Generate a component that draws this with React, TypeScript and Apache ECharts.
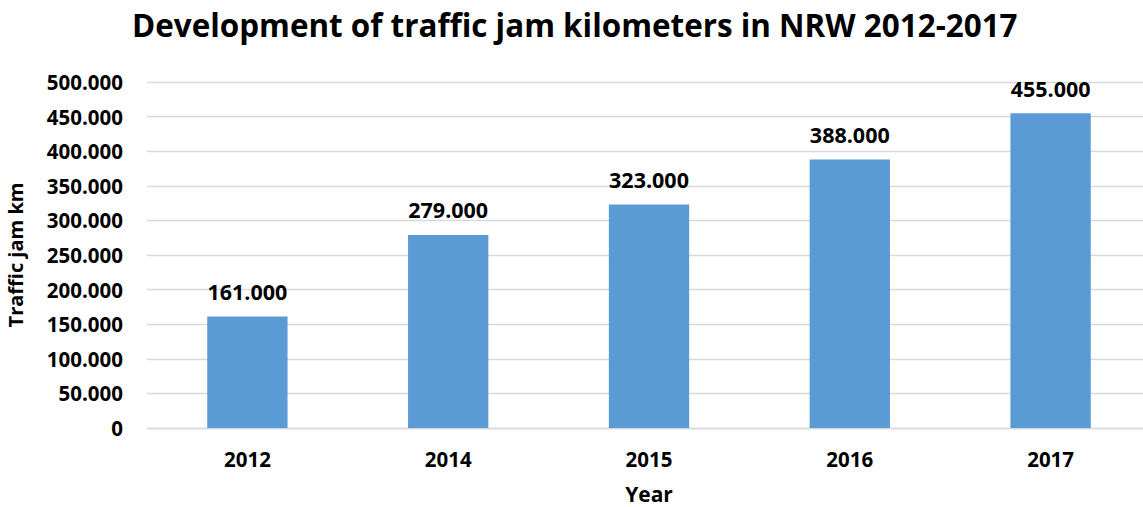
import React, { useEffect, useRef } from "react";
import * as echarts from "echarts";

const categories = ["2012", "2014", "2015", "2016", "2017"];
const jamKm = [161000, 279000, 323000, 388000, 455000];
const titleText = "Development of traffic jam kilometers in NRW 2012-2017";
const yAxisName = "Traffic jam km";
const xAxisName = "Year";

const fmt = (v: number) => {
  if (v === 0) return "0";
  return String(Math.round(v)).replace(/\B(?=(\d{3})+(?!\d))/g, ".");
};

const FONT = "Open Sans";

export default function App() {
  const ref = useRef<HTMLDivElement>(null);
  useEffect(() => {
    if (!ref.current) return;
    const chart = echarts.init(ref.current, undefined, { renderer: "svg" });
    chart.setOption({
      animation: false,
      backgroundColor: "#ffffff",
      title: {
        text: titleText,
        left: 127,
        top: 4,
        textStyle: { fontFamily: FONT, fontWeight: "bold", fontSize: 31.4, color: "#000" },
      },
      grid: { left: 147, right: -8, top: 82, bottom: 79, containLabel: false, outerBoundsMode: "none" },
      xAxis: {
        type: "category",
        data: categories,
        name: xAxisName,
        nameLocation: "middle",
        nameGap: 55,
        nameTextStyle: { fontFamily: FONT, fontWeight: "bold", fontSize: 21, color: "#000" },
        axisLine: { show: true, lineStyle: { color: "#d9d9d9", width: 1.3 } },
        axisTick: { show: false },
        axisLabel: { fontFamily: FONT, fontWeight: "bold", fontSize: 20.5, color: "#000", margin: 20 },
      },
      yAxis: {
        type: "value",
        min: 0,
        max: 500000,
        interval: 50000,
        name: yAxisName,
        nameLocation: "middle",
        nameGap: 122,
        nameRotate: 90,
        nameTextStyle: { fontFamily: FONT, fontWeight: "bold", fontSize: 20, color: "#000" },
        axisLine: { show: false },
        axisTick: { show: false },
        splitLine: { lineStyle: { color: "#d9d9d9", width: 1.3 } },
        axisLabel: {
          fontFamily: FONT,
          fontWeight: "bold",
          fontSize: 20.5,
          color: "#000",
          margin: 24,
          formatter: (v: number) => fmt(v),
        },
      },
      series: [
        {
          type: "bar",
          data: jamKm,
          barWidth: "40%",
          itemStyle: { color: "#5b9bd5" },
          label: {
            show: true,
            position: "top",
            distance: 14,
            fontFamily: FONT,
            fontWeight: "bold",
            fontSize: 21.5,
            color: "#000",
            formatter: (p: any) => fmt(p.value),
          },
        },
      ],
    });
    return () => chart.dispose();
  }, []);
  return (
    <div
      ref={ref}
      style={{ position: "fixed", left: 0, top: 0, width: 1143, height: 507, background: "#fff" }}
    />
  );
}
